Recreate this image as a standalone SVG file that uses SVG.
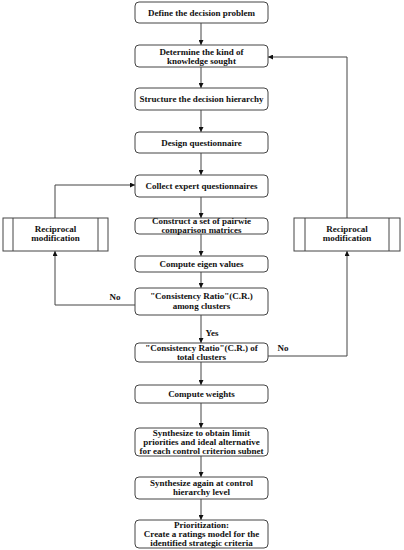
<svg xmlns="http://www.w3.org/2000/svg" width="404" height="550" viewBox="0 0 404 550">
<style>
.box{fill:#fff;stroke:#444;stroke-width:1}
.t{font-family:"Liberation Serif","Times New Roman",serif;font-weight:bold;font-size:9px;fill:#111;text-anchor:middle}
.c{fill:none;stroke:#444;stroke-width:1}
</style>
<defs>
<marker id="a" viewBox="0 0 6 6" refX="6" refY="3" markerWidth="5" markerHeight="5" orient="auto" markerUnits="userSpaceOnUse">
<path d="M0,0 L6,3 L0,6 z" fill="#111"/>
</marker>
</defs>
<rect width="404" height="550" fill="#fff"/>
<g id="connectors">
<line class="c" x1="201" y1="23" x2="201" y2="45" marker-end="url(#a)"/>
<line class="c" x1="201" y1="67" x2="201" y2="88" marker-end="url(#a)"/>
<line class="c" x1="201" y1="110" x2="201" y2="132" marker-end="url(#a)"/>
<line class="c" x1="201" y1="153" x2="201" y2="175" marker-end="url(#a)"/>
<line class="c" x1="201" y1="197" x2="201" y2="218" marker-end="url(#a)"/>
<line class="c" x1="201" y1="234" x2="201" y2="256" marker-end="url(#a)"/>
<line class="c" x1="201" y1="272" x2="201" y2="288" marker-end="url(#a)"/>
<line class="c" x1="201" y1="315" x2="201" y2="343" marker-end="url(#a)"/>
<line class="c" x1="201" y1="362" x2="201" y2="385" marker-end="url(#a)"/>
<line class="c" x1="201" y1="403" x2="201" y2="428" marker-end="url(#a)"/>
<line class="c" x1="201" y1="456" x2="201" y2="477" marker-end="url(#a)"/>
<line class="c" x1="201" y1="499" x2="201" y2="520" marker-end="url(#a)"/>
<polyline class="c" points="135,305 55,305 55,251" marker-end="url(#a)"/>
<polyline class="c" points="55,218 55,185 135,185" marker-end="url(#a)"/>
<polyline class="c" points="268,356 347,356 347,251" marker-end="url(#a)"/>
<polyline class="c" points="347,218 347,57 268,57" marker-end="url(#a)"/>
<text class="t" x="115" y="300">No</text>
<text class="t" x="283" y="351">No</text>
<text class="t" x="212" y="336">Yes</text>
</g>
<g id="n1"><rect class="box" x="135" y="2" width="133" height="21" rx="4"/><text class="t" x="201.5" y="15.5">Define the decision problem</text></g>
<g id="n2"><rect class="box" x="135" y="45" width="133" height="22" rx="4"/><text class="t" x="201.5" y="54.5">Determine the kind of</text><text class="t" x="201.5" y="63.8">knowledge sought</text></g>
<g id="n3"><rect class="box" x="135" y="88" width="133" height="22" rx="4"/><text class="t" x="201.5" y="102">Structure the decision hierarchy</text></g>
<g id="n4"><rect class="box" x="135" y="132" width="133" height="21" rx="4"/><text class="t" x="201.5" y="145.5">Design questionnaire</text></g>
<g id="n5"><rect class="box" x="135" y="175" width="133" height="22" rx="4"/><text class="t" x="201.5" y="189">Collect expert questionnaires</text></g>
<g id="n6"><rect class="box" x="135" y="218" width="133" height="16" rx="4"/><text class="t" x="201.5" y="224.2">Construct a set of pairwie</text><text class="t" x="201.5" y="233.2">comparison matrices</text></g>
<g id="n7"><rect class="box" x="135" y="256" width="133" height="16" rx="4"/><text class="t" x="201.5" y="267">Compute eigen values</text></g>
<g id="n8"><rect class="box" x="135" y="288" width="133" height="27" rx="4"/><text class="t" x="201.5" y="299">"Consistency Ratio"(C.R.)</text><text class="t" x="201.5" y="309">among clusters</text></g>
<g id="n9"><rect class="box" x="135" y="343" width="133" height="19" rx="4"/><text class="t" x="201.5" y="351.3">"Consistency Ratio"(C.R.) of</text><text class="t" x="201.5" y="360.4">total clusters</text></g>
<g id="n10"><rect class="box" x="135" y="385" width="133" height="18" rx="4"/><text class="t" x="201.5" y="397">Compute weights</text></g>
<g id="n11"><rect class="box" x="135" y="428" width="133" height="28" rx="4"/><text class="t" x="201.5" y="436.3">Synthesize to obtain limit</text><text class="t" x="201.5" y="445.2">priorities and ideal alternative</text><text class="t" x="201.5" y="454.1">for each control criterion subnet</text></g>
<g id="n12"><rect class="box" x="135" y="477" width="133" height="22" rx="4"/><text class="t" x="201.5" y="486">Synthesize again at control</text><text class="t" x="201.5" y="495.2">hierarchy level</text></g>
<g id="n13"><rect class="box" x="135" y="520" width="133" height="28" rx="4"/><text class="t" x="201.5" y="527.8">Prioritization:</text><text class="t" x="201.5" y="536.8">Create a ratings model for the</text><text class="t" x="201.5" y="545.8">identified strategic criteria</text></g>
<g id="r1"><rect class="box" x="3" y="218" width="105" height="33"/><line class="c" x1="13" y1="218" x2="13" y2="251"/><line class="c" x1="98" y1="218" x2="98" y2="251"/><text class="t" x="55.5" y="232">Reciprocal</text><text class="t" x="55.5" y="241.2">modification</text></g>
<g id="r2"><rect class="box" x="294" y="218" width="106" height="33"/><line class="c" x1="305" y1="218" x2="305" y2="251"/><line class="c" x1="389" y1="218" x2="389" y2="251"/><text class="t" x="347" y="232">Reciprocal</text><text class="t" x="347" y="241.2">modification</text></g>
</svg>
